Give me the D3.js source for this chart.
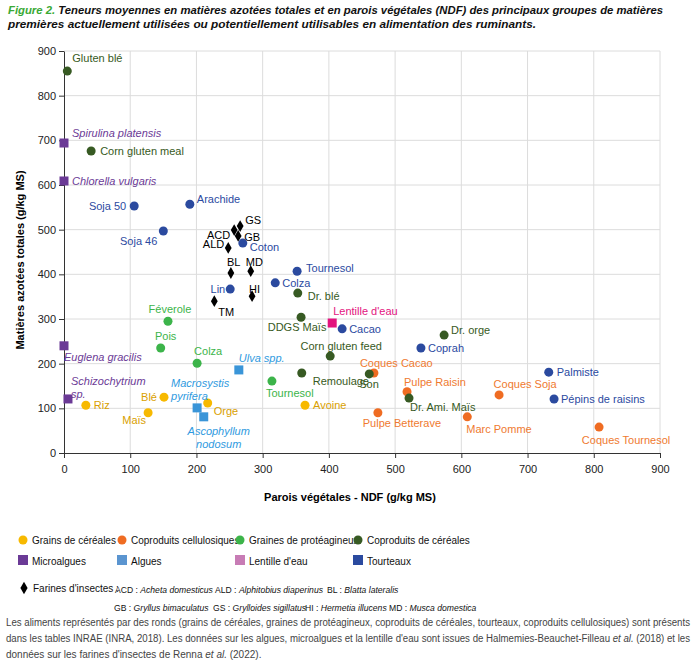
<!DOCTYPE html>
<html><head><meta charset="utf-8">
<script src="https://cdn.jsdelivr.net/npm/d3@7"></script>
<style>body{margin:0;background:#fff}svg,svg text{font-family:"Liberation Sans",Arimo,sans-serif}</style>
</head><body><svg id="c" width="697" height="664"></svg>
<script>
const names=["Gluten blé","Corn gluten meal","Spirulina platensis","Chlorella vulgaris","Soja 50","Arachide","Soja 46","GS","ACD","GB","ALD","Coton","BL","MD","Tournesol","Colza","Dr. blé","Lin","HI","TM","Féverole","Pois","DDGS Maïs","Lentille d'eau","Cacao","Euglena gracilis","Corn gluten feed","Colza ","Ulva spp.","Dr. orge","Coprah","Coques Cacao","Son","Remoulage","Tournesol ","Palmiste","Pulpe Raisin","Dr. Ami. Maïs","Coques Soja","Pépins de raisins","Schizochytrium sp.","Riz","Blé","Maïs","Orge","Avoine","Macrosystis pyrifera","Ascophyllum nodosum","Pulpe Betterave","Marc Pomme","Coques Tournesol"];
const groups=["cop","cop","micro","micro","tour","tour","tour","ins","ins","ins","ins","tour","ins","ins","tour","tour","cop","tour","ins","ins","prot","prot","cop","lent","tour","micro","cop","prot","alg","cop","tour","cell","cop","cop","prot","tour","cell","cop","cell","tour","micro","grain","grain","grain","grain","grain","alg","alg","cell","cell","cell"];
const ndf=[5,41,0,0,106,190,150,266,257,263,248,270,252,282,352,319,353,251,284,227,157,146,358,405,420,0,402,201,264,574,539,468,461,359,314,732,518,521,657,740,6,33,151,127,217,364,201,211,474,609,808];
const mat=[855,676,694,609,553,557,497,508,499,486,459,470,403,407,407,381,358,367,351,340,295,235,304,291,278,240,217,201,186,264,235,179,177,179,161,181,137,123,130,121,121,107,125,90,112,107,101,81,90,81,58];
const xTicks=[0,100,200,300,400,500,600,700,800,900];
const yTicks=[0,100,200,300,400,500,600,700,800,900];
const legendKeys=["grain","cell","prot","cop","micro","alg","lent","tour"];
const legendLabels=["Grains de céréales","Coproduits cellulosiques","Graines de protéagineux","Coproduits de céréales","Microalgues","Algues","Lentille d'eau","Tourteaux"];

const FF="'Liberation Sans',Arimo,sans-serif";
const col={grain:"#f7b900",cell:"#ef6c22",prot:"#3cb44a",cop:"#375a23",micro:"#6b3a96",alg:"#3a95d8",lent:"#e3137e",tour:"#2b4a9f",ins:"#000"};
const txtCol={grain:"#d9a000",cell:"#ef7a30",prot:"#3cb44a",cop:"#375a23",micro:"#6b3a96",alg:"#2f9ae0",lent:"#e3137e",tour:"#2b4a9f",ins:"#000"};
const legCol={grain:"#f7b900",cell:"#ef6c22",prot:"#3cb44a",cop:"#375a23",micro:"#6b3a96",alg:"#5b95d0",lent:"#c77cb5",tour:"#2b4a9f"};
const lp={"Gluten blé":[5,-9,"start"],"Corn gluten meal":[9,4,"start"],"Spirulina platensis":[8,-6,"start"],"Chlorella vulgaris":[8,4,"start"],"Soja 50":[-8,4,"end"],"Arachide":[7,-1,"start"],"Soja 46":[-6,14,"end"],"GS":[5,-2,"start"],"ACD":[-4,9,"end"],"GB":[6,5,"start"],"ALD":[-4,0,"end"],"Coton":[7,8,"start"],"BL":[-4,-7,"start"],"MD":[-5,-5,"start"],"Tournesol":[9,1,"start"],"Colza":[7,4,"start"],"Dr. blé":[10,7,"start"],"Lin":[-5,4,"end"],"HI":[-3,-3,"start"],"TM":[4,15,"start"],"Féverole":[2,-8,"middle"],"Pois":[5,-8,"middle"],"DDGS Maïs":[-4,14,"middle"],"Lentille d'eau":[1,-8,"start"],"Cacao":[7,4,"start"],"Euglena gracilis":[0,15,"start"],"Corn gluten feed":[11,-6,"middle"],"Colza ":[-3,-8,"start"],"Ulva spp.":[0,-8,"start"],"Dr. orge":[7,-1,"start"],"Coprah":[7,4,"start"],"Coques Cacao":[-14,-6,"start"],"Son":[-10,14,"start"],"Remoulage":[11,12,"start"],"Tournesol ":[-6,16,"start"],"Palmiste":[8,4,"start"],"Pulpe Raisin":[-3,-6,"start"],"Dr. Ami. Maïs":[1,13,"start"],"Coques Soja":[26,-7,"middle"],"Pépins de raisins":[7,4,"start"],"Schizochytrium sp.":[3,-14,"start"],"Riz":[8,4,"start"],"Blé":[-7,4,"end"],"Maïs":[-2,11,"end"],"Orge":[6,12,"start"],"Avoine":[8,4,"start"],"Macrosystis pyrifera":[-26,-21,"start"],"Ascophyllum nodosum":[15,18,"middle"],"Pulpe Betterave":[24,14,"middle"],"Marc Pomme":[-1,16,"start"],"Coques Tournesol":[27,17,"middle"]};
const italicG={micro:1,alg:1};
const twoLine={"Schizochytrium sp.":["Schizochytrium","sp."],"Macrosystis pyrifera":["Macrosystis","pyrifera"],"Ascophyllum nodosum":["Ascophyllum","nodosum"]};

const svg=d3.select("#c");
const t=svg.append("text").attr("x",8).attr("y",14).attr("font-size",10.5).attr("font-weight","bold").attr("font-style","italic").attr("textLength",655).attr("lengthAdjust","spacingAndGlyphs");
t.append("tspan").attr("fill","#3aa935").text("Figure 2. ");
t.append("tspan").attr("fill","#111").text("Teneurs moyennes en matières azotées totales et en parois végétales (NDF) des principaux groupes de matières");
svg.append("text").attr("x",8).attr("y",28).attr("font-size",10.5).attr("font-weight","bold").attr("font-style","italic").attr("fill","#111").attr("textLength",528).attr("lengthAdjust","spacingAndGlyphs").text("premières actuellement utilisées ou potentiellement utilisables en alimentation des ruminants.");

const x=d3.scaleLinear().domain([0,900]).range([64,660]);
const y=d3.scaleLinear().domain([0,900]).range([453,51]);
const g=svg.append("g");
g.selectAll(".gx").data(xTicks.slice(1)).join("line").attr("x1",d=>x(d)).attr("x2",d=>x(d)).attr("y1",y(0)).attr("y2",y(900)).attr("stroke","#dcdcdc");
g.selectAll(".gy").data(yTicks.slice(1)).join("line").attr("x1",x(0)).attr("x2",x(900)).attr("y1",d=>y(d)).attr("y2",d=>y(d)).attr("stroke","#dcdcdc");
const xa=svg.append("g").attr("transform",`translate(0,${y(0)})`).call(d3.axisBottom(x).tickValues(xTicks).tickSize(5).tickSizeOuter(0));
const ya=svg.append("g").attr("transform",`translate(${x(0)},0)`).call(d3.axisLeft(y).tickValues(yTicks).tickSize(5).tickSizeOuter(0));
[xa,ya].forEach(a=>{a.attr("font-family",FF);a.selectAll("text").attr("font-size",11).attr("fill","#222");a.selectAll("line,path").attr("stroke","#333");});
xa.selectAll("text").attr("dy","1.1em");
svg.append("text").attr("x",350).attr("y",501).attr("text-anchor","middle").attr("font-size",11).attr("font-weight","bold").text("Parois végétales - NDF (g/kg MS)");
svg.append("text").attr("transform","translate(24,260) rotate(-90)").attr("text-anchor","middle").attr("font-size",11).attr("font-weight","bold").text("Matières azotées totales (g/kg MS)");

function mark(sel,gk,cx,cy,c){
  if(gk==="micro"||gk==="alg"||gk==="lent") sel.append("rect").attr("x",cx-4.5).attr("y",cy-4.5).attr("width",9).attr("height",9).attr("fill",c);
  else if(gk==="ins") sel.append("path").attr("d",d3.symbol(d3.symbolDiamond,40)()).attr("transform",`translate(${cx},${cy})`).attr("fill",c);
  else sel.append("circle").attr("cx",cx).attr("cy",cy).attr("r",4.5).attr("fill",c);
}
const pts=svg.append("g");
names.forEach((n,i)=>{
  const gk=groups[i],cx=x(ndf[i]),cy=y(mat[i]);
  mark(pts,gk,cx,cy,col[gk]);
  const [dx,dy,an]=lp[n];
  const lines=twoLine[n]||[n.trim()];
  lines.forEach((l,j)=>pts.append("text").attr("x",cx+dx).attr("y",cy+dy+j*13).attr("text-anchor",an)
    .attr("font-size",11).attr("fill",txtCol[gk]).attr("font-style",italicG[gk]?"italic":"normal").text(l));
});
const lx=[23,122,240,358];
legendKeys.forEach((k,i)=>{
  const cx=lx[i%4],cy=i<4?540:561;
  const lg=svg.append("g");
  if(i<4) lg.append("circle").attr("cx",cx).attr("cy",cy).attr("r",4.5).attr("fill",legCol[k]);
  else lg.append("rect").attr("x",cx-5).attr("y",cy-6).attr("width",10).attr("height",10).attr("fill",legCol[k]);
  lg.append("text").attr("x",cx+9).attr("y",cy+4).attr("font-size",10).attr("fill","#111").text(legendLabels[i]);
});
svg.append("path").attr("d",d3.symbol(d3.symbolDiamond,45)()).attr("transform","translate(24,588)").attr("fill","#000");
svg.append("text").attr("x",33).attr("y",592).attr("font-size",10).attr("fill","#111").text("Farines d'insectes :");
const insAbbr=["ACD","ALD","BL","GB","GS","HI","MD"];
const insName=["Acheta domesticus","Alphitobius diaperinus","Blatta lateralis","Gryllus bimaculatus","Grylloides sigillatus","Hermetia illucens","Musca domestica"];
const ipos=[[115,593],[215,593],[327,593],[114,611],[213,611],[305,611],[389,611]];
insAbbr.forEach((a,i)=>{const tt=svg.append("text").attr("x",ipos[i][0]).attr("y",ipos[i][1]).attr("font-size",8.6).attr("fill","#111");
  tt.append("tspan").text(a+" : ");tt.append("tspan").attr("font-style","italic").text(insName[i]);});
const foot=[["Les aliments représentés par des ronds (grains de céréales, graines de protéagineux, coproduits de céréales, tourteaux, coproduits cellulosiques) sont présents"],
 ["dans les tables INRAE (INRA, 2018). Les données sur les algues, microalgues et la lentille d'eau sont issues de Halmemies-Beauchet-Filleau ",["et al."]," (2018) et les"],
 ["données sur les farines d'insectes de Renna ",["et al."]," (2022)."]];
foot.forEach((parts,i)=>{const tt=svg.append("text").attr("x",6).attr("y",626+i*16).attr("font-size",10).attr("fill","#444")
  .attr("font-family","'Liberation Sans Narrow','DejaVu Sans Condensed',sans-serif");
  if(i<2) tt.attr("textLength",684).attr("lengthAdjust","spacingAndGlyphs");
  parts.forEach(p=>{if(Array.isArray(p)) tt.append("tspan").attr("font-style","italic").text(p[0]); else tt.append("tspan").text(p);});});
</script></body></html>
